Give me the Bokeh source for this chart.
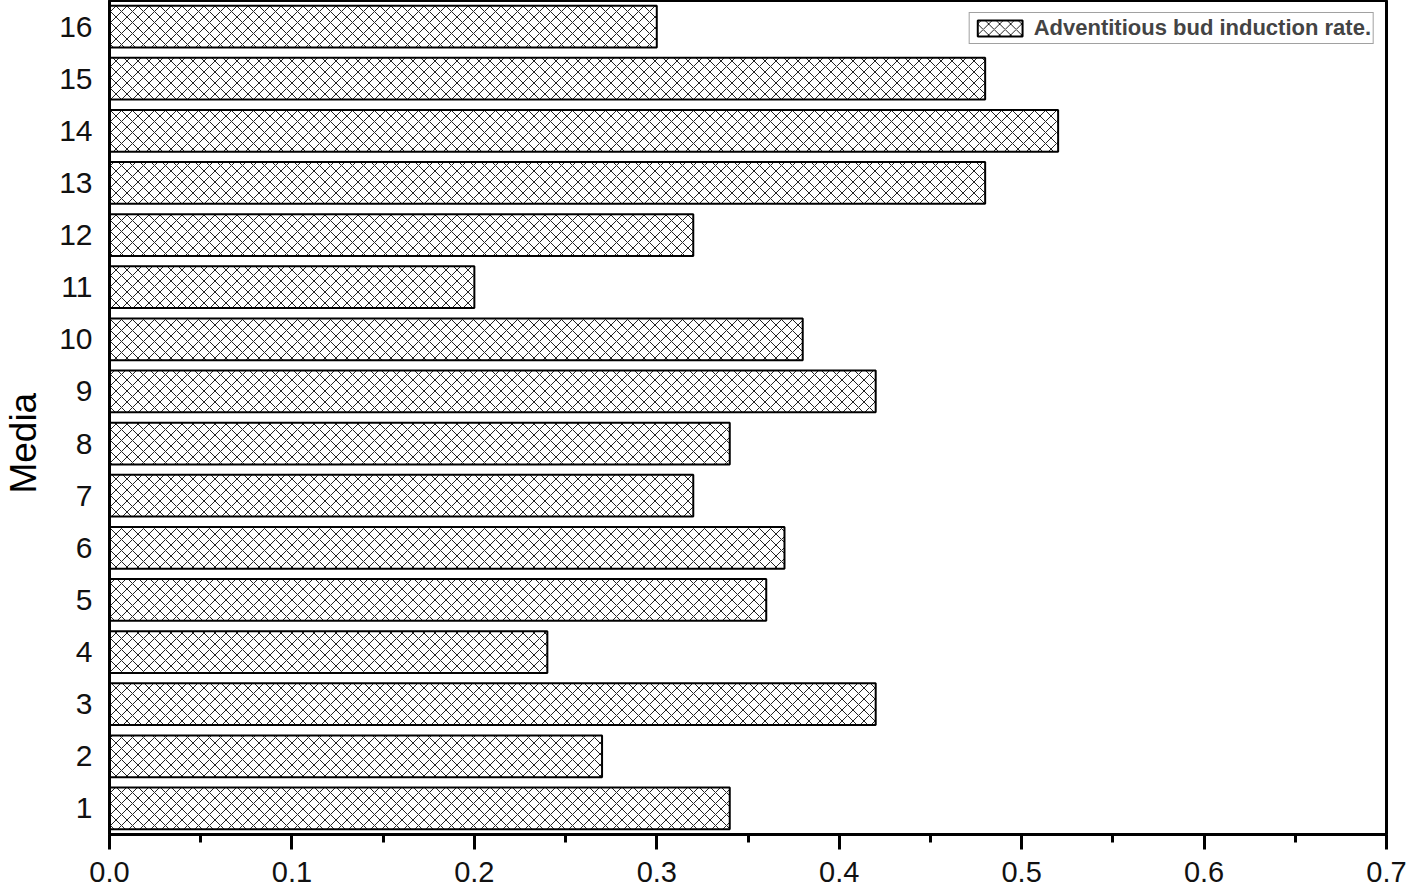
from bokeh.plotting import figure
from bokeh.models import ColumnDataSource, FixedTicker, NumeralTickFormatter, Range1d, Legend, LegendItem
from bokeh.embed import file_html
from bokeh.resources import INLINE

media = list(range(1, 17))
rates = [0.34, 0.27, 0.42, 0.24, 0.36, 0.37, 0.32, 0.34, 0.42, 0.38, 0.20, 0.32, 0.48, 0.52, 0.48, 0.30]
x_ticks = [0.0, 0.1, 0.2, 0.3, 0.4, 0.5, 0.6, 0.7]
x_minor = [0.05, 0.15, 0.25, 0.35, 0.45, 0.55, 0.65]
legend_label = "Adventitious bud induction rate."

src = ColumnDataSource(dict(media=media, rate=rates))

p = figure(frame_width=1277, frame_height=834, output_backend="svg", toolbar_location=None,
           x_range=Range1d(0, 0.7), y_range=Range1d(0.5, 16.5),
           min_border_left=102, min_border_top=0, min_border_right=23, min_border_bottom=58)

r = p.hbar(y="media", right="rate", left=0, height=0.8, source=src,
           fill_color="white", line_color="black", line_width=2,
           hatch_pattern="diagonal_cross", hatch_color="#222222", hatch_scale=11, hatch_weight=1)

p.xgrid.visible = False
p.ygrid.visible = False
p.outline_line_color = "black"
p.outline_line_width = 3

p.xaxis.ticker = FixedTicker(ticks=x_ticks, minor_ticks=x_minor)
p.xaxis.formatter = NumeralTickFormatter(format="0.0")
p.xaxis.major_tick_out = 15
p.xaxis.major_tick_in = 0
p.xaxis.minor_tick_out = 8
p.xaxis.minor_tick_in = 0
p.xaxis.major_tick_line_width = 3
p.xaxis.minor_tick_line_width = 3
p.xaxis.axis_line_width = 3
p.xaxis.major_label_text_font = "Liberation Sans"
p.xaxis.major_label_text_font_size = "29px"
p.xaxis.major_label_text_color = "#111"
p.xaxis.major_label_standoff = 12

p.yaxis.ticker = FixedTicker(ticks=media)
p.yaxis.major_tick_line_color = None
p.yaxis.minor_tick_line_color = None
p.yaxis.axis_line_width = 3
p.yaxis.major_label_text_font = "Liberation Sans"
p.yaxis.major_label_text_font_size = "30px"
p.yaxis.major_label_text_color = "#111"
p.yaxis.major_label_standoff = 11
p.yaxis.axis_label = "Media" + "\u00a0" * 5
p.yaxis.axis_label_text_font = "Liberation Sans"
p.yaxis.axis_label_text_font_size = "37px"
p.yaxis.axis_label_text_font_style = "normal"
p.yaxis.axis_label_text_color = "black"
p.yaxis.axis_label_standoff = 12

legend = Legend(items=[LegendItem(label=legend_label, renderers=[r])], location="top_right",
                label_text_font="Liberation Sans", label_text_font_style="bold",
                label_text_font_size="22px", label_height=20, glyph_width=56, glyph_height=20,
                padding=2, spacing=0, margin=12, label_standoff=6,
                border_line_color="#444444", border_line_width=1.5)
p.add_layout(legend)

open("out.html", "w").write(file_html(p, INLINE))
